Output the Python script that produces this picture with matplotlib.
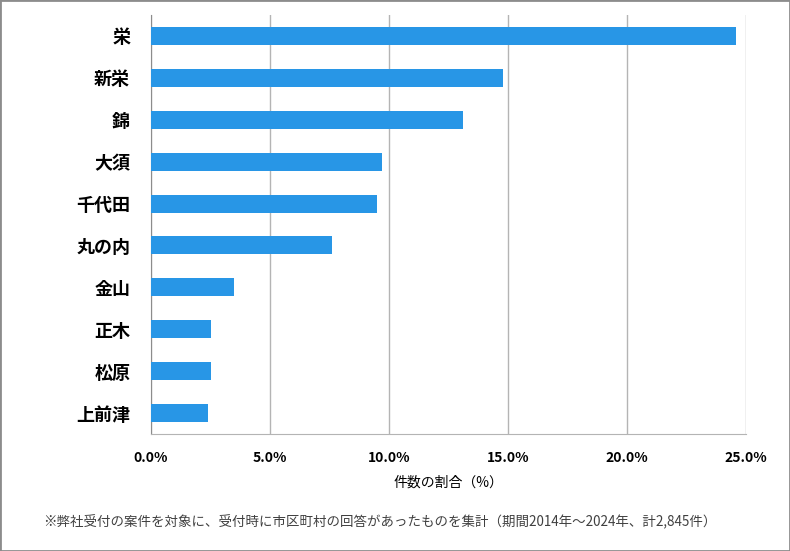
import matplotlib.pyplot as plt
from matplotlib.patches import Rectangle

plt.rcParams['font.family'] = ['Noto Sans CJK JP', 'DejaVu Sans']

areas = ['栄', '新栄', '錦', '大須', '千代田', '丸の内', '金山', '正木', '松原', '上前津']
shares = [24.6, 14.8, 13.1, 9.7, 9.5, 7.6, 3.5, 2.5, 2.5, 2.4]
xticks = [0, 5, 10, 15, 20, 25]
xticklabels = ['0.0%', '5.0%', '10.0%', '15.0%', '20.0%', '25.0%']

fig = plt.figure(figsize=(7.9, 5.51), dpi=100)
ax = fig.add_axes([151/790, 117/551, 595/790, 419/551])

ypos = list(range(len(areas)))
ax.barh(ypos, shares, height=0.43, color='#2896e6', zorder=3)
ax.set_ylim(len(areas) - 0.5, -0.5)
ax.set_xlim(0, 25)

ax.set_xticks(xticks)
ax.set_xticklabels(xticklabels, fontsize=10, fontweight='bold')
ax.set_yticks(ypos)
ax.set_yticklabels(areas, fontsize=13, fontweight='bold')
ax.tick_params(axis='both', length=0)
ax.tick_params(axis='x', pad=12)
ax.tick_params(axis='y', pad=15)

ax.grid(axis='x', color='#b4b4b4', lw=1, zorder=0)
for s in ['top', 'right']:
    ax.spines[s].set_visible(False)
ax.spines['left'].set_color('#8c8c8c')
ax.spines['bottom'].set_color('#b4b4b4')

ax.set_xlabel('件数の割合（%）', fontsize=10, labelpad=8)

fig.text(43/790, 1 - 522/551, '※弊社受付の案件を対象に、受付時に市区町村の回答があったものを集計（期間2014年～2024年、計2,845件）',
         fontsize=9.7, color='#404040', va='center', ha='left')

fig.patches.append(Rectangle((0, 0), 1, 1, transform=fig.transFigure, fill=False,
                             edgecolor='#8c8c8c', lw=2))

fig.savefig('out.png', dpi=100)
